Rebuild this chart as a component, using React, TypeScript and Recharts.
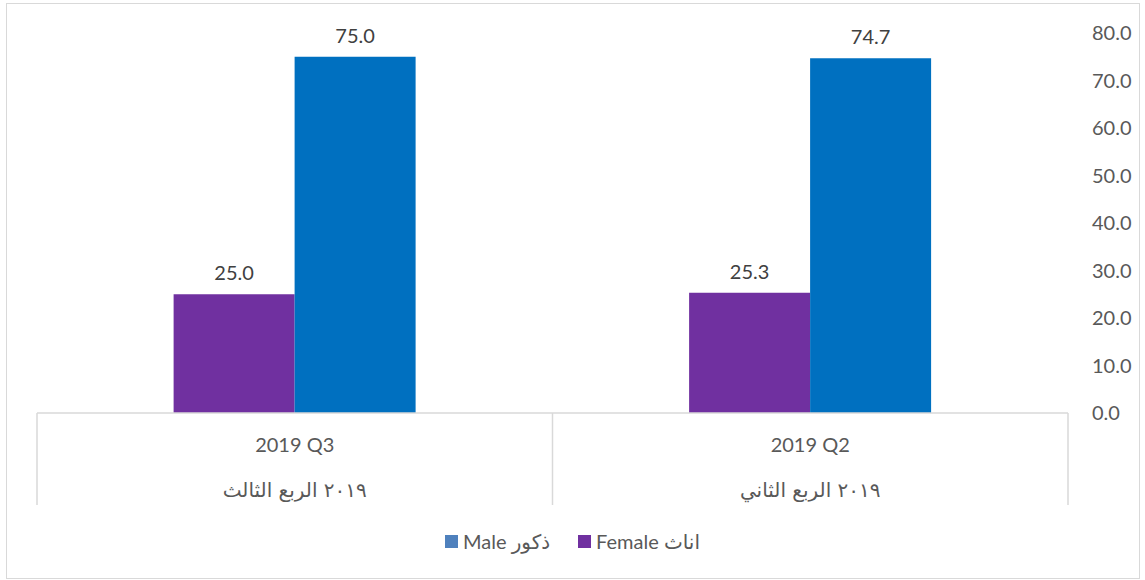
import React from "react";
import { BarChart, Bar, XAxis, YAxis, LabelList } from "recharts";

const categories = ["2019 Q3", "2019 Q2"];
const categoriesAr = ["٢٠١٩ الربع الثالث", "٢٠١٩ الربع الثاني"];
const femaleValues = [25.0, 25.3];
const maleValues = [75.0, 74.7];
const yTicks = [0, 10, 20, 30, 40, 50, 60, 70, 80];

const W = 1145;
const H = 580;
const MARGIN = { top: 33, right: 17, left: 37, bottom: 72 };
const Y_AXIS_W = 60;
const X_AXIS_H = 95;
const PLOT_W = W - MARGIN.left - MARGIN.right - Y_AXIS_W;

const FONT = "Lato, 'DejaVu Sans', sans-serif";
const AXIS_TEXT = "#595959";
const LABEL_TEXT = "#404040";
const LINE = "#d9d9d9";
const FEMALE = "#7030A0";
const MALE = "#0070C0";
const MALE_KEY = "#4F81BD";

const data = categories.map((c, i) => ({
  name: c,
  ar: categoriesAr[i],
  female: femaleValues[i],
  male: maleValues[i],
}));

const XTick = (props: any) => {
  const { x, y, payload, index } = props;
  const half = PLOT_W / categories.length / 2;
  return (
    <g>
      <line x1={x - half} y1={y} x2={x - half} y2={y + 92} stroke={LINE} strokeWidth={1.5} />
      {index === categories.length - 1 && (
        <line x1={x + half} y1={y} x2={x + half} y2={y + 92} stroke={LINE} strokeWidth={1.5} />
      )}
      <text x={x} y={y + 39} textAnchor="middle" fill={AXIS_TEXT} fontSize={20} fontFamily={FONT}>
        {payload.value}
      </text>
      <text x={x} y={y + 84} textAnchor="middle" fill={AXIS_TEXT} fontSize={20} fontFamily="'DejaVu Serif', 'DejaVu Sans', serif">
        {data[index] ? data[index].ar : ""}
      </text>
    </g>
  );
};

const YTick = (props: any) => {
  const { x, y, payload } = props;
  return (
    <text x={x + 24} y={y + 7} textAnchor="start" fill={AXIS_TEXT} fontSize={20} fontFamily={FONT}>
      {Number(payload.value).toFixed(1)}
    </text>
  );
};

const Key = ({ color, text }: { color: string; text: string }) => (
  <span style={{ display: "inline-flex", alignItems: "center", margin: "0 14px" }}>
    <span style={{ width: 13, height: 13, background: color, display: "inline-block", marginRight: 5 }} />
    <span>{text}</span>
  </span>
);

export default function App() {
  return (
    <div style={{ position: "absolute", left: 0, top: 0, width: W, height: H, background: "#fff" }}>
      <div
        style={{
          position: "absolute",
          left: 6,
          top: 3,
          width: 1132,
          height: 574,
          border: `1px solid ${LINE}`,
        }}
      />
      <BarChart
        width={W}
        height={H}
        data={data}
        margin={MARGIN}
        barCategoryGap="26.5%"
        barGap={0}
      >
        <XAxis
          dataKey="name"
          height={X_AXIS_H}
          axisLine={{ stroke: LINE, strokeWidth: 1.5 }}
          tickLine={false}
          tickSize={0}
          tickMargin={0}
          interval={0}
          tick={<XTick />}
        />
        <YAxis
          orientation="right"
          width={Y_AXIS_W}
          domain={[0, 80]}
          ticks={yTicks}
          axisLine={false}
          tickLine={false}
          tickSize={0}
          tickMargin={0}
          tick={<YTick />}
        />
        <Bar dataKey="female" name="Female اناث" fill={FEMALE} isAnimationActive={false}>
          <LabelList
            dataKey="female"
            position="top"
            offset={14}
            fill={LABEL_TEXT}
            fontSize={20}
            fontFamily={FONT}
            formatter={(v: any) => Number(v).toFixed(1)}
          />
        </Bar>
        <Bar dataKey="male" name="Male ذكور" fill={MALE} isAnimationActive={false}>
          <LabelList
            dataKey="male"
            position="top"
            offset={14}
            fill={LABEL_TEXT}
            fontSize={20}
            fontFamily={FONT}
            formatter={(v: any) => Number(v).toFixed(1)}
          />
        </Bar>
      </BarChart>
      <div
        style={{
          position: "absolute",
          left: 0,
          width: W,
          top: 528,
          textAlign: "center",
          fontFamily: FONT,
          fontSize: 20,
          color: AXIS_TEXT,
          whiteSpace: "nowrap",
        }}
      >
        <Key color={MALE_KEY} text="Male ذكور" />
        <Key color={FEMALE} text="Female اناث" />
      </div>
    </div>
  );
}
